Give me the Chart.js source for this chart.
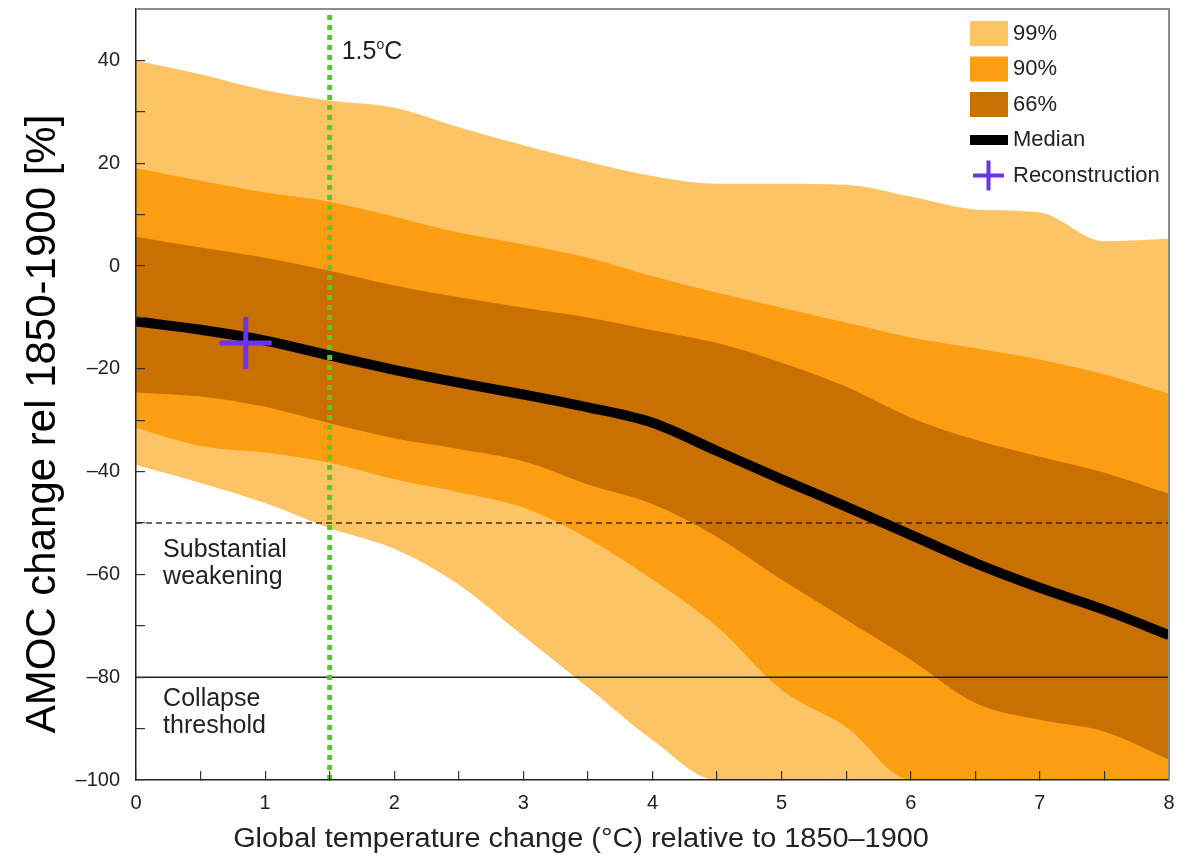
<!DOCTYPE html>
<html>
<head>
<meta charset="utf-8">
<script src="https://cdn.jsdelivr.net/npm/chart.js@4.4.1/dist/chart.umd.min.js"></script>
<style>
  body { margin: 0; background: #fff; }
  canvas { display: block; }
</style>
</head>
<body>
<canvas id="amoc" width="1186" height="858" style="width:1186px;height:858px"></canvas>
<script>
// warming levels (deg C above 1850-1900)
const temps = [0, 0.5, 1, 1.5, 2, 2.5, 3, 3.5, 4, 4.5, 5, 5.5, 6, 6.5, 7, 7.5, 8];

// AMOC change [%]
const p99Upper = [40, 37.3, 34.2, 32.2, 30.8, 27, 23.5, 20.3, 17.5, 16, 16, 15.8, 13.5, 11, 10.4, 4.8, 5.3];
const p90Upper = [19, 16.6, 14.3, 12.5, 9.6, 6.5, 4.2, 1.6, -2, -5.2, -8.1, -11, -13.9, -16, -18.2, -21.1, -24.8];
const p66Upper = [5.7, 3.6, 1.6, -0.9, -3.8, -6.1, -8.1, -10, -12.5, -15, -18.8, -23.5, -29.5, -33.8, -37.1, -40.2, -44.3];
const median   = [-10.8, -12.4, -14.5, -17.4, -20.2, -22.7, -25, -27.5, -30.5, -36, -41.5, -46.8, -52.3, -57.8, -62.6, -66.9, -71.8];
const p66Lower = [-24.6, -25.4, -27.4, -30.6, -33.5, -35.6, -38, -42.5, -46.3, -52.7, -61, -68.8, -76.6, -85, -88.3, -90.6, -96];
const p90Lower = [-31.5, -35, -36.3, -38.3, -41.5, -44, -47, -53, -61, -70.2, -82.5, -89.7, -100, -100, -100, -100, -100];
const p99Lower = [-38.7, -42.2, -46.1, -51, -55, -62, -72, -82, -92.2, -100, -100, -100, -100, -100, -100, -100, -100];

const reconX = [0.85];
const reconY = [-15];

const weakeningLevel = -50;
const collapseLevel = -80;
const parisLevel = 1.5;

const yLabelled = [-100, -80, -60, -40, -20, 0, 20, 40];
const xLabelled = [0, 1, 2, 3, 4, 5, 6, 7, 8];
const legendLabels = ['99%', '90%', '66%', 'Median', 'Reconstruction'];

const FONT = '"Liberation Sans", Arial, sans-serif';
const colors = { c99: '#fdc465', c90: '#fc9e12', c66: '#c87002', median: '#000', recon: '#6a33f2', green: '#55cc22' };

const pts = arr => temps.map((t, i) => ({ x: t, y: arr[i] }));

function band(arr, color, order, fillNext) {
  return {
    data: pts(arr),
    borderWidth: 0,
    pointRadius: 0,
    backgroundColor: color,
    fill: fillNext ? '+1' : false,
    cubicInterpolationMode: 'monotone',
    order: order,
    clip: 0
  };
}

const decor = {
  id: 'decor',
  afterDraw(chart) {
    const { ctx, chartArea: a, scales: { x, y } } = chart;
    ctx.save();

    // grey frame on top and right
    ctx.strokeStyle = '#8c8c8c';
    ctx.lineWidth = 2;
    ctx.beginPath();
    ctx.moveTo(a.left, a.top);
    ctx.lineTo(a.right, a.top);
    ctx.lineTo(a.right, a.bottom);
    ctx.stroke();

    ctx.fillStyle = '#222';
    ctx.textBaseline = 'alphabetic';
    ctx.textAlign = 'left';

    // threshold notes
    ctx.font = '25px ' + FONT;
    const tx = x.getPixelForValue(0.21);
    ctx.fillText('Substantial', tx, y.getPixelForValue(weakeningLevel) + 34);
    ctx.fillText('weakening', tx, y.getPixelForValue(weakeningLevel) + 61);
    ctx.fillText('Collapse', tx, y.getPixelForValue(collapseLevel) + 29);
    ctx.fillText('threshold', tx, y.getPixelForValue(collapseLevel) + 56);

    // 1.5oC label
    let px = x.getPixelForValue(parisLevel) + 12;
    const base = a.top + 50;
    ctx.font = '25px ' + FONT;
    ctx.fillText('1.5', px, base);
    px += ctx.measureText('1.5').width;
    ctx.font = '14px ' + FONT;
    ctx.fillText('o', px, base - 10);
    px += ctx.measureText('o').width;
    ctx.font = '25px ' + FONT;
    ctx.fillText('C', px, base);

    // legend
    const lx = a.right - 199, ly = a.top + 12, step = 35.5;
    const sw = [colors.c99, colors.c90, colors.c66];
    ctx.font = '22px ' + FONT;
    ctx.textBaseline = 'middle';
    legendLabels.forEach((lab, i) => {
      const cy = ly + 12.5 + i * step;
      if (i < 3) {
        ctx.fillStyle = sw[i];
        ctx.fillRect(lx, cy - 12.5, 38, 25);
      } else if (i === 3) {
        ctx.fillStyle = colors.median;
        ctx.fillRect(lx, cy - 5, 38, 10);
      } else {
        ctx.strokeStyle = colors.recon;
        ctx.lineWidth = 4;
        ctx.beginPath();
        ctx.moveTo(lx + 3, cy); ctx.lineTo(lx + 34, cy);
        ctx.moveTo(lx + 18.5, cy - 15); ctx.lineTo(lx + 18.5, cy + 15);
        ctx.stroke();
      }
      ctx.fillStyle = '#222';
      ctx.fillText(lab, lx + 43, cy);
    });

    // axis titles
    ctx.fillStyle = '#222';
    ctx.textAlign = 'center';
    ctx.textBaseline = 'alphabetic';
    ctx.font = '27px ' + FONT;
    ctx.save();
    ctx.translate(581, 847);
    ctx.scale(1.07, 1);
    ctx.fillText('Global temperature change (\u00b0C) relative to 1850\u20131900', 0, 0);
    ctx.restore();

    ctx.fillStyle = '#000';
    ctx.font = '42px ' + FONT;
    ctx.translate(55, 424);
    ctx.rotate(-Math.PI / 2);
    ctx.fillText('AMOC change rel 1850-1900 [%]', 0, 0);

    ctx.restore();
  }
};

const dash = v => (v < 0 ? '\u2013' + Math.abs(v) : String(v));

new Chart(document.getElementById('amoc'), {
  type: 'line',
  data: {
    datasets: [
      band(p99Upper, colors.c99, 30, true),
      band(p99Lower, colors.c99, 30, false),
      band(p90Upper, colors.c90, 20, true),
      band(p90Lower, colors.c90, 20, false),
      band(p66Upper, colors.c66, 10, true),
      band(p66Lower, colors.c66, 10, false),
      {
        data: [{ x: 0, y: weakeningLevel }, { x: 8, y: weakeningLevel }],
        borderColor: 'rgba(40,20,0,0.85)', borderWidth: 1.5, borderDash: [6, 4],
        pointRadius: 0, fill: false, order: 5
      },
      {
        data: [{ x: 0, y: collapseLevel }, { x: 8, y: collapseLevel }],
        borderColor: '#222', borderWidth: 1.6,
        pointRadius: 0, fill: false, order: 5
      },
      {
        data: pts(median),
        borderColor: colors.median, borderWidth: 10,
        pointRadius: 0, fill: false, cubicInterpolationMode: 'monotone',
        order: 3, clip: 0
      },
      {
        data: [{ x: parisLevel, y: -100 }, { x: parisLevel, y: 50 }],
        borderColor: colors.green, borderWidth: 5, borderDash: [5, 5],
        pointRadius: 0, fill: false, order: 2
      },
      {
        data: reconX.map((v, i) => ({ x: v, y: reconY[i] })),
        showLine: false,
        pointStyle: 'cross', pointRadius: 26, borderWidth: 5,
        borderColor: colors.recon, pointBorderColor: colors.recon,
        order: 1
      }
    ]
  },
  options: {
    responsive: false,
    animation: false,
    devicePixelRatio: 1,
    layout: { autoPadding: false, padding: { top: 9, right: 17, left: 0, bottom: 0 } },
    plugins: { legend: { display: false }, tooltip: { enabled: false } },
    scales: {
      x: {
        type: 'linear', min: 0, max: 8,
        afterFit: s => { s.height = 78; s.paddingLeft = 0; s.paddingRight = 0; },
        border: { color: '#222', width: 1.5, z: 1 },
        grid: { drawOnChartArea: false, tickLength: -9, color: '#333', lineWidth: 1.2, z: 1 },
        ticks: {
          stepSize: 0.5, autoSkip: false, maxRotation: 0, padding: 20,
          color: '#222', font: { family: FONT, size: 20 },
          callback: v => (xLabelled.includes(v) ? String(v) : '')
        }
      },
      y: {
        type: 'linear', min: -100, max: 50,
        afterFit: s => { s.width = 136; s.paddingTop = 0; s.paddingBottom = 0; },
        border: { color: '#222', width: 1.5, z: 1 },
        grid: { drawOnChartArea: false, tickLength: -9, color: '#333', lineWidth: 1.2, z: 1 },
        ticks: {
          stepSize: 10, autoSkip: false, padding: 25,
          color: '#222', font: { family: FONT, size: 20 },
          callback: v => (yLabelled.includes(v) ? dash(v) : '')
        }
      }
    }
  },
  plugins: [decor]
});
</script>
</body>
</html>
